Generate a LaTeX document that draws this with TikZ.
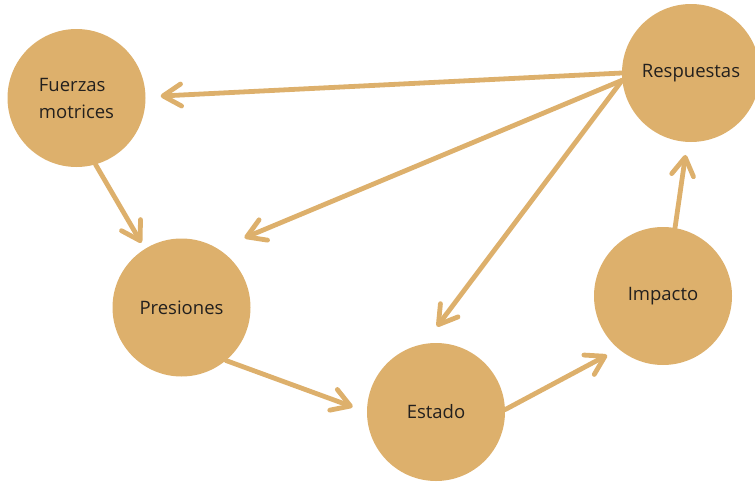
\documentclass[tikz,border=0pt]{standalone}
\usepackage{fontspec}
\setmainfont{Open Sans}
\usetikzlibrary{arrows.meta}
\definecolor{bubtan}{RGB}{221,176,108}
\definecolor{txtgray}{RGB}{35,32,30}
\begin{document}
\begin{tikzpicture}[x=1pt,y=-1pt,
  bub/.style={circle,fill=bubtan,minimum size=138pt,inner sep=0pt,text=txtgray,font=\fontsize{18.5}{27}\selectfont},
  con/.style={draw=bubtan,line width=4.8pt,line cap=round,-{Straight Barb[length=18pt,width=22pt,round]}}]
\useasboundingbox (0,0) rectangle (755,482);
\node[bub,align=left] (fuer) at (76.5,98) {Fuerzas\\motrices};
\node[bub] (pres) at (181.5,307.5) {Presiones};
\node[bub] (est) at (436,412) {Estado};
\node[bub] (imp) at (663,296) {Impacto};
\node[bub] (resp) at (691,73) {Respuestas};
\draw[con,shorten >=15pt] (resp.180) -- (fuer.1);
\draw[con,shorten >=28.5pt] (resp.186) -- (pres.58.7);
\draw[con,shorten >=21.6pt] (resp.186) -- (est.100.8);
\draw[con,shorten >=7pt] (fuer.-74) -- (pres.122.3);
\draw[con,shorten >=15pt] (pres.-50) -- (est.180);
\draw[con,shorten >=13pt] (est.2) -- (imp.230);
\draw[con,shorten >=13pt] (imp.80) -- (resp.267.5);
\end{tikzpicture}
\end{document}
